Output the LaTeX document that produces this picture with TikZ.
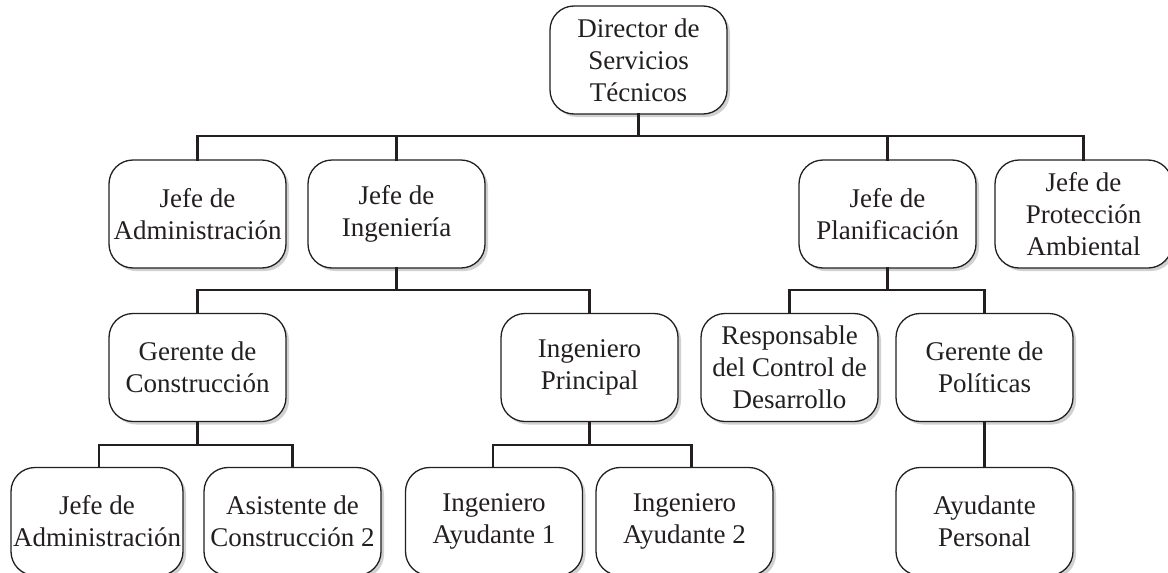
\documentclass[tikz,border=0pt]{standalone}
\usepackage{fontspec}
\setmainfont{Liberation Serif}
\usetikzlibrary{shadows}
\definecolor{ink}{HTML}{231F20}
\begin{document}
\begin{tikzpicture}[x=1pt,y=-1pt,
  box/.style={draw=ink, line width=1.3pt, fill=white, rounded corners=24pt,
    minimum width=177pt, minimum height=108pt, inner sep=0pt, align=center,
    text=ink, font=\fontsize{27}{32}\selectfont,
    drop shadow={shadow xshift=3pt, shadow yshift=-3pt, opacity=0.18, fill=black}},
  conn/.style={draw=ink, line width=2.6pt, line cap=rect}]
\useasboundingbox (0,0) rectangle (1168,573);
% bus coordinates
\coordinate (b1) at (638.5,136);
\coordinate (b2) at (396.5,290);
\coordinate (b3) at (887.5,290);
\coordinate (b4) at (197.5,445);
\coordinate (b5) at (589.5,445);
% nodes
\node[box] (dir) at (638.5,60) {Director de\\Servicios\\Técnicos};
\node[box] (l1a) at (197.5,214) {Jefe de\\Administración};
\node[box] (l1b) at (396.5,214) {Jefe de\\Ingeniería};
\node[box] (l1c) at (887.5,214) {Jefe de\\Planificación};
\node[box] (l1d) at (1083.5,214) {Jefe de\\Protección\\Ambiental};
\node[box] (gc) at (197.5,367.5) {Gerente de\\Construcción};
\node[box] (ip) at (589.5,367.5) {Ingeniero\\Principal};
\node[box] (rc) at (789.5,367.5) {Responsable\\del Control de\\Desarrollo};
\node[box] (gp) at (984.5,367.5) {Gerente de\\Políticas};
\node[box, minimum width=172pt] (ja) at (97,521.5) {Jefe de\\Administración};
\node[box] (ac) at (292.5,521.5) {Asistente de\\Construcción 2};
\node[box] (ia1) at (494,521.5) {Ingeniero\\Ayudante 1};
\node[box] (ia2) at (684.5,521.5) {Ingeniero\\Ayudante 2};
\node[box] (ap) at (984.5,521.5) {Ayudante\\Personal};
% connectors
\begin{scope}[on background layer/.style={}]
\draw[conn] (dir.south) -- (b1);
\draw[conn] (l1a.north) -- (l1a.north |- b1) -- (l1d.north |- b1) -- (l1d.north);
\draw[conn] (l1b.north) -- (l1b.north |- b1);
\draw[conn] (l1c.north) -- (l1c.north |- b1);
\draw[conn] (l1b.south) -- (b2);
\draw[conn] (gc.north) -- (gc.north |- b2) -- (ip.north |- b2) -- (ip.north);
\draw[conn] (l1c.south) -- (b3);
\draw[conn] (rc.north) -- (rc.north |- b3) -- (gp.north |- b3) -- (gp.north);
\draw[conn] (gc.south) -- (b4);
\draw[conn] ([xshift=2pt]ja.north) -- ([xshift=2pt]ja.north |- b4) -- (ac.north |- b4) -- (ac.north);
\draw[conn] (ip.south) -- (b5);
\draw[conn] ([xshift=-1pt]ia1.north) -- ([xshift=-1pt]ia1.north |- b5) -- ([xshift=7pt]ia2.north |- b5) -- ([xshift=7pt]ia2.north);
\draw[conn] (gp.south) -- (ap.north);
\end{scope}
\end{tikzpicture}
\end{document}
